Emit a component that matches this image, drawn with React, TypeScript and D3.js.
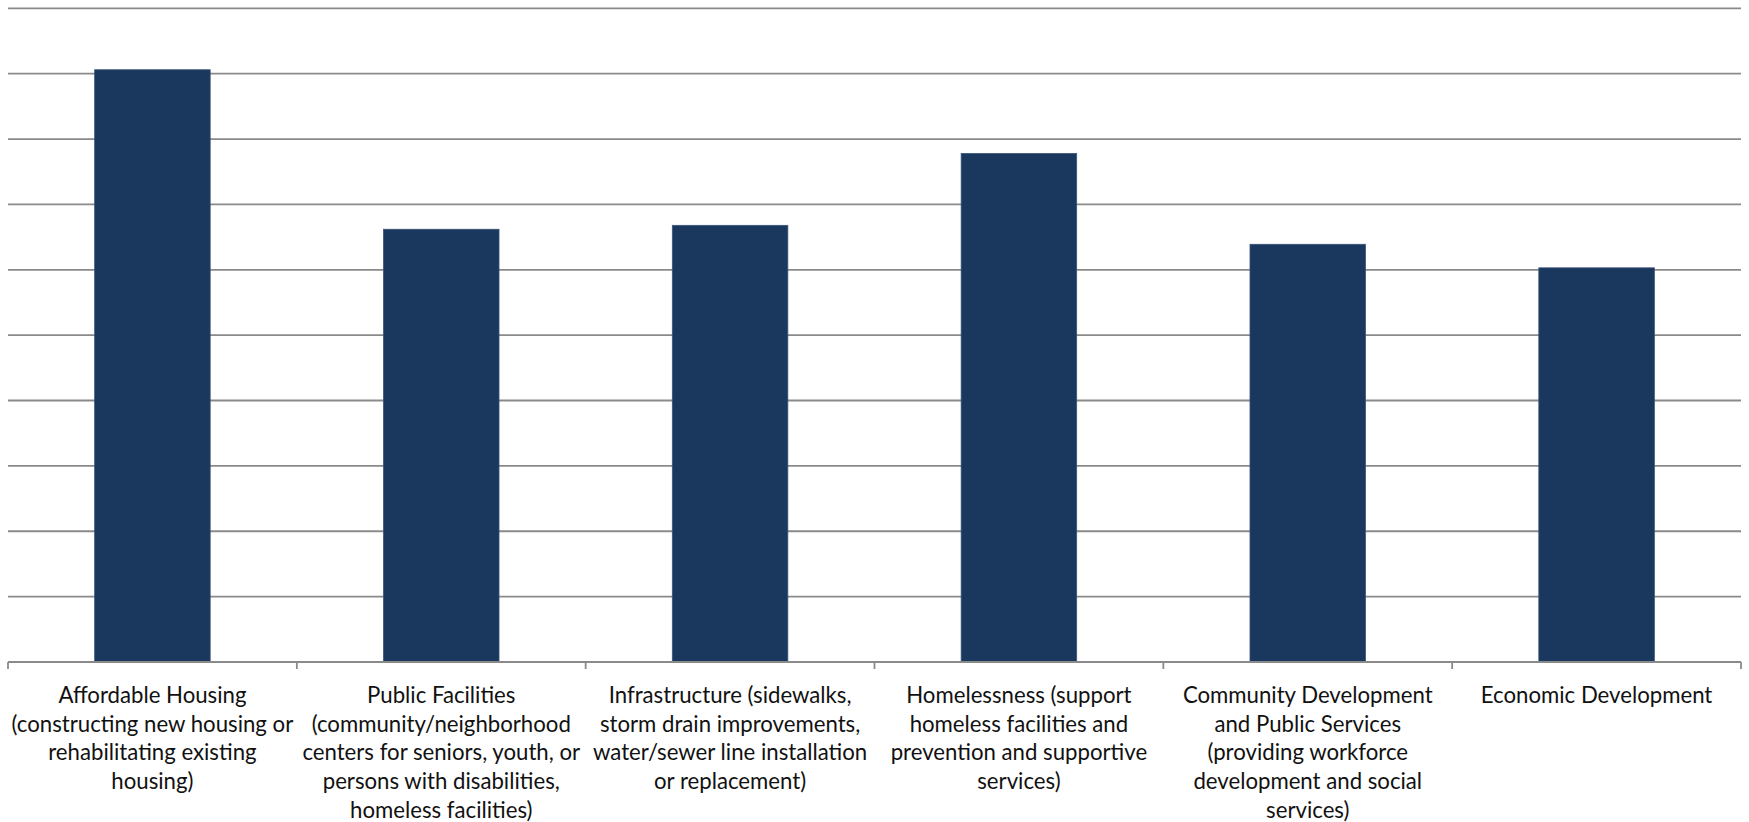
import React from "react";
import * as d3 from "d3";

// Survey priority categories, each wrapped into the lines shown under its bar
const categories: string[] = [
  "Affordable Housing",
  "Public Facilities",
  "Infrastructure",
  "Homelessness",
  "Community Development and Public Services",
  "Economic Development",
];

const labelLines: string[][] = [
  ["Affordable Housing", "(constructing new housing or", "rehabilitating existing", "housing)"],
  ["Public Facilities", "(community/neighborhood", "centers for seniors, youth, or", "persons with disabilities,", "homeless facilities)"],
  ["Infrastructure (sidewalks,", "storm drain improvements,", "water/sewer line installation", "or replacement)"],
  ["Homelessness (support", "homeless facilities and", "prevention and supportive", "services)"],
  ["Community Development", "and Public Services", "(providing workforce", "development and social", "services)"],
  ["Economic Development"],
];

// Average priority score per category
const scores: number[] = [4.53, 3.31, 3.34, 3.89, 3.195, 3.015];

// Value gridlines
const gridTicks: number[] = [0.5, 1, 1.5, 2, 2.5, 3, 3.5, 4, 4.5, 5];

const W = 1749;
const H = 822;
const plotLeft = 8;
const plotRight = 1741;
const plotTop = 8.3;
const plotBottom = 662;

export default function App() {
  const x = d3
    .scaleBand<string>()
    .domain(categories)
    .range([plotLeft, plotRight])
    .paddingInner(0.6)
    .paddingOuter(0.3);

  const y = d3.scaleLinear().domain([0, 5]).range([plotBottom, plotTop]);

  const step = x.step();
  const boundaries = d3.range(categories.length + 1).map((i) => plotLeft + i * step);

  const font = "Lato, 'Open Sans', sans-serif";

  return (
    <svg
      width={W}
      height={H}
      style={{ position: "absolute", left: 0, top: 0, background: "#fff" }}
    >
      <g>
        {gridTicks.map((t) => (
          <line
            key={t}
            x1={plotLeft}
            x2={plotRight}
            y1={y(t)}
            y2={y(t)}
            stroke="#8a8a8a"
            strokeWidth={1.8}
          />
        ))}
      </g>
      <g>
        {categories.map((c, i) => (
          <rect
            key={c}
            x={x(c)}
            y={y(scores[i])}
            width={x.bandwidth()}
            height={y(0) - y(scores[i])}
            fill="#1a375e"
            stroke="#3b5579"
            strokeWidth={0.8}
          />
        ))}
      </g>
      <g>
        <line
          x1={plotLeft}
          x2={plotRight}
          y1={plotBottom}
          y2={plotBottom}
          stroke="#8a8a8a"
          strokeWidth={1.8}
        />
        {boundaries.map((bx, i) => (
          <line
            key={i}
            x1={bx}
            x2={bx}
            y1={plotBottom}
            y2={plotBottom + 7}
            stroke="#8a8a8a"
            strokeWidth={1.8}
          />
        ))}
      </g>
      <g fontFamily={font} fontSize={22.2} fill="#111" textAnchor="middle">
        {categories.map((c, i) => (
          <text key={c} x={(x(c) ?? 0) + x.bandwidth() / 2} y={703}>
            {labelLines[i].map((ln, j) => (
              <tspan key={j} x={(x(c) ?? 0) + x.bandwidth() / 2} y={703 + j * 28.7}>
                {ln}
              </tspan>
            ))}
          </text>
        ))}
      </g>
    </svg>
  );
}
